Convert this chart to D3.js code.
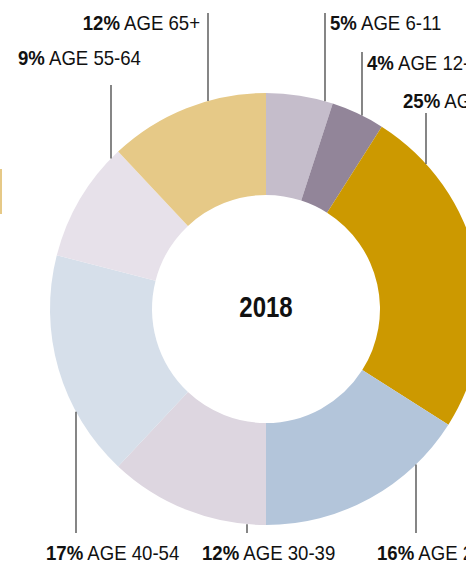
<!DOCTYPE html>
<html>
<head>
<meta charset="utf-8">
<script src="https://cdn.jsdelivr.net/npm/d3@7"></script>
<style>
  html, body { margin: 0; padding: 0; background: #fff; overflow: hidden; }
  text { font-family: "Liberation Sans", Arial, sans-serif; fill: #111; }
</style>
</head>
<body>
<div id="chart"></div>
<script>
// datos del anillo, en orden horario desde las 12
const grupos = ["AGE 6-11", "AGE 12-17", "AGE 18-24", "AGE 25-29", "AGE 30-39", "AGE 40-54", "AGE 55-64", "AGE 65+"];
const porcentajes = [5, 4, 25, 16, 12, 17, 9, 12];
const colores = ["#c5bdcb", "#928599", "#cc9900", "#b3c5da", "#ddd6e0", "#d6dfea", "#e7e1ea", "#e6c987"];
const anio = "2018";

const width = 466, height = 568;
const cx = 266, cy = 309;
const rOut = 216, rIn = 114;
const estrecho = 0.93; // la fuente original es condensada

// donde va cada etiqueta (x de la linea guia, texto, ancla)
const etiquetas = {
  "AGE 6-11":  { lx: 325, ly: 13, tx: 330, ty: 30, anchor: "start", top: true },
  "AGE 12-17": { lx: 362, ly: 52, tx: 367, ty: 70, anchor: "start", top: true },
  "AGE 18-24": { lx: 426, ly: 113, tx: 403, ty: 108, anchor: "start", top: true },
  "AGE 25-29": { lx: 416, ly: 533, tx: 377, ty: 560, anchor: "start", top: false },
  "AGE 30-39": { lx: 247, ly: 533, tx: 202, ty: 560, anchor: "start", top: false },
  "AGE 40-54": { lx: 76, ly: 533, tx: 46, ty: 560, anchor: "start", top: false },
  "AGE 55-64": { lx: 111, ly: 85, tx: 18, ty: 65, anchor: "start", top: true },
  "AGE 65+":   { lx: 208, ly: 13, tx: 200, ty: 30, anchor: "end", top: true }
};

const datos = grupos.map((g, i) => ({ grupo: g, valor: porcentajes[i], color: colores[i] }));

const svg = d3.select("#chart").append("svg")
  .attr("width", width)
  .attr("height", height);

// pedacito amarillo que asoma a la izquierda
svg.append("rect")
  .attr("x", 0).attr("y", 169).attr("width", 2).attr("height", 45)
  .attr("fill", "#e6c987");

const pie = d3.pie().value(d => d.valor).sort(null);
const arc = d3.arc().innerRadius(rIn).outerRadius(rOut);

const g = svg.append("g").attr("transform", `translate(${cx},${cy})`);

g.selectAll("path")
  .data(pie(datos))
  .enter().append("path")
  .attr("d", arc)
  .attr("fill", d => d.data.color);

g.append("text")
  .attr("text-anchor", "middle")
  .attr("transform", "translate(0,8) scale(0.8,1)")
  .style("font-size", "30px")
  .style("font-weight", "bold")
  .text(anio);

// lineas guia: del texto al borde exterior del anillo
datos.forEach(d => {
  const e = etiquetas[d.grupo];
  const dx = e.lx - cx;
  const dy = Math.sqrt(rOut * rOut - dx * dx);
  const yBorde = e.top ? cy - dy : cy + dy;
  svg.append("line")
    .attr("x1", e.lx).attr("x2", e.lx)
    .attr("y1", e.ly).attr("y2", yBorde)
    .attr("stroke", "#444")
    .attr("stroke-width", 1.3);

  const t = svg.append("text")
    .attr("transform", `translate(${e.tx},${e.ty}) scale(${estrecho},1)`)
    .attr("text-anchor", e.anchor)
    .style("font-size", "20px");
  t.append("tspan").style("font-weight", "bold").text(d.valor + "%");
  t.append("tspan").text(" " + d.grupo);
});
</script>
</body>
</html>
